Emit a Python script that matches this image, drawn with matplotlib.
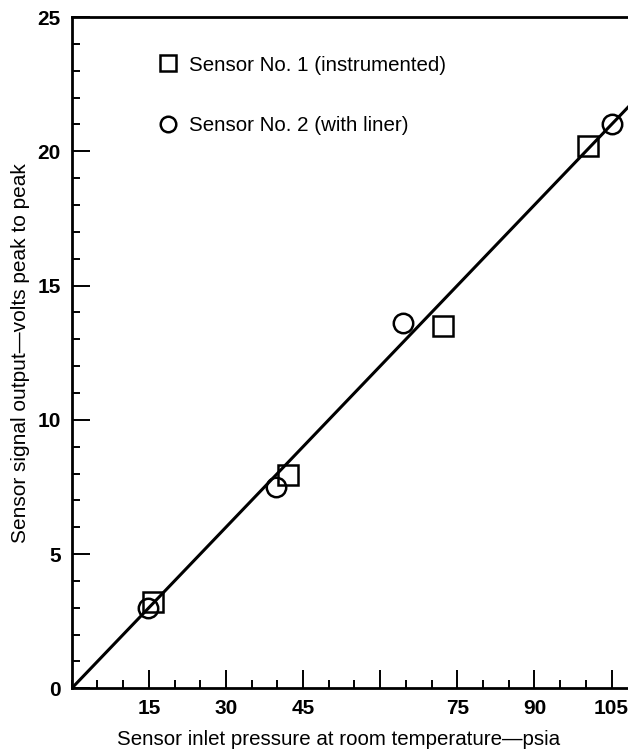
import matplotlib
matplotlib.use("Agg")
import matplotlib.pyplot as plt
from matplotlib.ticker import MultipleLocator, FixedLocator

# data
sensor1_x = [15.8, 42.1, 72.2, 100.4]
sensor1_y = [3.2, 7.95, 13.5, 20.2]
sensor2_x = [14.8, 39.7, 64.5, 105.1]
sensor2_y = [3.0, 7.5, 13.6, 21.0]
fit_x = [0, 110]
fit_y = [0, 22]
xtick_vals = [15, 30, 45, 60, 75, 90, 105]
xtick_labels = ["15", "30", "45", "", "75", "90", "105"]
ytick_vals = [0, 5, 10, 15, 20, 25]

plt.rcParams['font.family'] = ['Liberation Sans', 'DejaVu Sans']


def main():
    fig = plt.figure(figsize=(6.28, 7.53), dpi=100)
    ax = fig.add_axes([0.1142, 0.0859, 0.8858, 0.8915])

    ax.plot(fit_x, fit_y, color='black', linewidth=2.2, zorder=2)
    ax.plot(sensor1_x, sensor1_y, linestyle='none', marker='s', markersize=14,
            markerfacecolor='none', markeredgecolor='black', markeredgewidth=1.8,
            label='Sensor No. 1 (instrumented)', zorder=3)
    ax.plot(sensor2_x, sensor2_y, linestyle='none', marker='o', markersize=14,
            markerfacecolor='none', markeredgecolor='black', markeredgewidth=1.8,
            label='Sensor No. 2 (with liner)', zorder=3)

    ax.set_xlim(0, 108.2)
    ax.set_ylim(0, 25)

    ax.xaxis.set_major_locator(FixedLocator(xtick_vals))
    ax.set_xticklabels(xtick_labels)
    ax.xaxis.set_minor_locator(MultipleLocator(5))
    ax.yaxis.set_major_locator(FixedLocator(ytick_vals))
    ax.yaxis.set_minor_locator(MultipleLocator(1))

    ax.tick_params(which='both', direction='in', width=1.4, top=False, right=False)
    ax.tick_params(which='major', length=13, labelsize=15, pad=8)
    ax.tick_params(which='minor', length=6)
    for lab in ax.get_xticklabels() + ax.get_yticklabels():
        lab.set_fontweight('bold')

    for side in ('left', 'bottom', 'top'):
        ax.spines[side].set_linewidth(2)
    ax.spines['right'].set_visible(False)

    ax.set_xlabel('Sensor inlet pressure at room temperature\u2014psia', fontsize=14.8)
    ax.xaxis.set_label_coords(0.48, -0.062)
    ax.set_ylabel('Sensor signal output\u2014volts peak to peak', fontsize=15)
    ax.yaxis.set_label_coords(-0.075, 0.5)

    ax.legend(loc='upper left', bbox_to_anchor=(0.122, 0.97), frameon=False,
              numpoints=1, markerscale=0.8, handlelength=1.0, handletextpad=0.5,
              labelspacing=2.0, fontsize=14.8)

    fig.savefig('out.png', dpi=100)


if __name__ == "__main__":
    main()
